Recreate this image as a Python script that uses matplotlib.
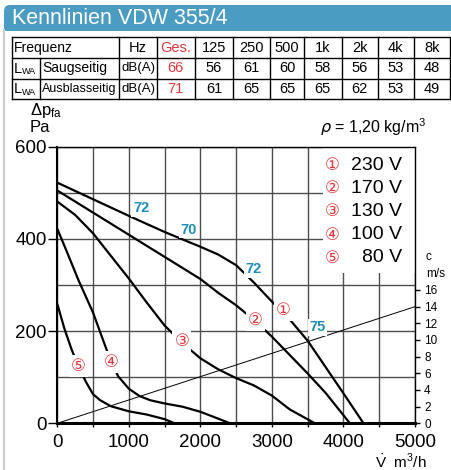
import matplotlib
matplotlib.use('Agg')
import matplotlib.pyplot as plt
from matplotlib import font_manager
from matplotlib.patches import Rectangle, FancyBboxPatch
from matplotlib.ticker import MultipleLocator

# values
title = 'Kennlinien VDW 355/4'
bands = ['125', '250', '500', '1k', '2k', '4k', '8k']
saug_total = 66
saug = [56, 61, 60, 58, 56, 53, 48]
ausblas_total = 71
ausblas = [61, 65, 65, 65, 62, 53, 49]

voltages = ['230 V', '170 V', '130 V', '100 V', '80 V']
marks = ['①', '②', '③', '④', '⑤']

flow_1 = [0, 500, 1000, 1500, 2000, 2250, 2500, 2750, 3000, 3250, 3500, 3750, 4000, 4280]
press_1 = [522, 486, 450, 415, 383, 366, 343, 305, 264, 225, 179, 122, 65, 0]
flow_2 = [0, 500, 1000, 1500, 2000, 2250, 2500, 2750, 3000, 3250, 3500, 3750, 4090]
press_2 = [505, 457, 409, 361, 313, 283, 256, 224, 188, 148, 108, 66, 0]
flow_3 = [0, 250, 500, 750, 1000, 1250, 1500, 1750, 2000, 2250, 2500, 2750, 3000, 3250, 3600]
press_3 = [481, 452, 412, 363, 314, 262, 212, 174, 141, 117, 98, 82, 60, 30, 0]
flow_4 = [0, 150, 300, 500, 700, 850, 1000, 1150, 1300, 1500, 1750, 2000, 2200, 2415]
press_4 = [422, 366, 309, 240, 155, 102, 75, 59, 50, 43, 36, 25, 13, 0]
flow_5 = [0, 100, 200, 300, 400, 500, 600, 750, 1000, 1250, 1500, 1640]
press_5 = [259, 205, 160, 122, 90, 63, 50, 37, 26, 19, 9, 0]
curves = [(flow_1, press_1), (flow_2, press_2), (flow_3, press_3),
          (flow_4, press_4), (flow_5, press_5)]

mark_flow = [3160, 2765, 1740, 760, 295]
mark_press = [246, 224, 178, 134, 124]

noise_vals = ['72', '70', '72', '75']
noise_flow = [1170, 1837, 2749, 3640]
noise_press = [466, 420, 334, 208]

c_flow = [0, 5000]
c_speed = [0, 14.0]

red = '#e5353d'
blue = '#1c8cb8'

names = {f.name for f in font_manager.fontManager.ttflist}
base = 'Liberation Sans' if 'Liberation Sans' in names else 'DejaVu Sans'
plt.rcParams['font.family'] = [base, 'DejaVu Sans']
if 'Liberation Sans Narrow' in names:
    tab_family = ['Liberation Sans Narrow', 'DejaVu Sans']
    tab_scale = 1.15
else:
    tab_family = [base, 'DejaVu Sans']
    tab_scale = 1.0


def tab_text(x, y, s, size, ha='center', color='black'):
    over.text(x, y, s, va='center', ha=ha, color=color,
              family=tab_family, fontsize=size * tab_scale)


fig = plt.figure(figsize=(4.51, 4.70), dpi=100)

# pixel overlay for header, table and free labels
over = fig.add_axes([0, 0, 1, 1])
over.set_xlim(0, 451)
over.set_ylim(470, 0)
over.axis('off')

over.add_patch(FancyBboxPatch((4, 5), 470, 25.7, boxstyle='round,pad=0,rounding_size=6',
                              facecolor='#4a9cc2', edgecolor='none'))
over.add_patch(Rectangle((4, 18), 470, 12.7, facecolor='#4a9cc2', edgecolor='none'))
over.plot([4, 4], [30, 470], color='#cccccc', lw=1.6)
over.text(12, 18.5, title, color='white', fontsize=15.5, va='center', ha='left')

col_edges = [12, 119.3, 156.7, 195, 233, 270, 304, 341.5, 377.7, 414, 449.5]
row_edges = [37.3, 58.3, 78.5, 99]
for y in row_edges:
    over.plot([col_edges[0], col_edges[-1]], [y, y], color='black', lw=1)
for x in col_edges:
    over.plot([x, x], [row_edges[0], row_edges[-1]], color='black', lw=1)
over.plot([40, 40], [row_edges[1], row_edges[-1]], color='black', lw=1)

row_mid = [(row_edges[i] + row_edges[i + 1]) / 2 for i in range(3)]
col_mid = [(col_edges[i] + col_edges[i + 1]) / 2 for i in range(1, len(col_edges) - 1)]

tab_text(14, row_mid[0], 'Frequenz', 10, ha='left')
tab_text(col_mid[0], row_mid[0], 'Hz', 10.5)
tab_text(col_mid[1], row_mid[0], 'Ges.', 10.5, color=red)
for j, b in enumerate(bands):
    tab_text(col_mid[j + 2], row_mid[0], b, 10.5)
rows = [('Saugseitig', saug_total, saug), ('Ausblasseitig', ausblas_total, ausblas)]
for i, (name, total, vals) in enumerate(rows):
    y = row_mid[i + 1]
    tab_text(14, y + 0.3, 'L', 10.5, ha='left')
    tab_text(21.5, y + 3.5, 'WA', 6.5, ha='left')
    tab_text(42, y, name, 10 if i == 0 else 9, ha='left')
    tab_text(col_mid[0], y, 'dB(A)', 9.5)
    tab_text(col_mid[1], y, str(total), 10.5, color=red)
    for j, v in enumerate(vals):
        tab_text(col_mid[j + 2], y, str(v), 10.5)

over.text(30, 110, r'$\mathregular{\Delta p_{fa}}$', fontsize=12, va='center', ha='left')
over.text(30, 127.5, 'Pa', fontsize=12, va='center', ha='left')
over.text(427, 127.5, r'$\rho$ = 1,20 kg/m$^{\mathregular{3}}$', fontsize=11.5,
          va='center', ha='right')
over.text(427, 462, r'$\dot{\mathregular{V}}$  m$^{\mathregular{3}}$/h', fontsize=11,
          va='center', ha='right')

# main chart
ax = fig.add_axes([57.3 / 451, 46.7 / 470, (415 - 57.3) / 451, 276.6 / 470])
ax.set_xlim(0, 5000)
ax.set_ylim(0, 600)
ax.xaxis.set_major_locator(MultipleLocator(1000))
ax.xaxis.set_minor_locator(MultipleLocator(500))
ax.yaxis.set_major_locator(MultipleLocator(200))
ax.yaxis.set_minor_locator(MultipleLocator(100))
ax.set_axisbelow(True)
ax.grid(which='both', color='#4d4d4d', lw=1.0)
ax.tick_params(axis='x', which='both', direction='out', length=3, width=1,
               labelsize=13.5, pad=4.5)
ax.tick_params(axis='y', which='major', direction='out', length=6.8, width=1,
               labelsize=13.5, pad=0.8)
ax.tick_params(axis='y', which='minor', length=0)
for s in ['top', 'right']:
    ax.spines[s].set_linewidth(1.0)
ax.spines['left'].set_linewidth(1.5)
ax.spines['bottom'].set_linewidth(2.2)

# white panel behind the voltage legend
ax.add_patch(Rectangle((3716, 326), 1284, 274, facecolor='white', edgecolor='none', zorder=1))

for q, p in curves:
    ax.plot(q, p, color='black', lw=1.6, zorder=2, solid_capstyle='butt')

ax2 = ax.twinx()
ax2.set_ylim(0, 33.2)
ax2.set_yticks(range(0, 17, 2))
ax2.tick_params(axis='y', direction='out', length=3.6, width=1, labelsize=8.5, pad=3)
for s in ax2.spines.values():
    s.set_visible(False)
ax2.plot(c_flow, c_speed, color='black', lw=0.7, zorder=2)
ax2.text(1.03, 20.0, 'c', transform=ax2.get_yaxis_transform(), fontsize=8.5,
         va='center', ha='left')
ax2.text(1.03, 17.9, 'm/s', transform=ax2.get_yaxis_transform(), fontsize=8.5,
         va='center', ha='left')

for s, q, p in zip(noise_vals, noise_flow, noise_press):
    ax2.text(q, p, s, transform=ax.transData, color=blue, fontsize=10.5, weight='bold',
             ha='center', va='center', zorder=5,
             bbox=dict(facecolor='white', edgecolor='none', pad=1))

for s, q, p in zip(marks, mark_flow, mark_press):
    ax2.text(q, p, s, transform=ax.transData, color=red, fontsize=12,
             family=['DejaVu Sans'], ha='center', va='center', zorder=5,
             bbox=dict(facecolor='white', edgecolor='none', pad=1.5))

legend_press = [560, 510, 460, 409, 359]
for s, v, p in zip(marks, voltages, legend_press):
    ax2.text(3842, p, s, transform=ax.transData, color=red, fontsize=12,
             family=['DejaVu Sans'], ha='center', va='center', zorder=5)
    ax2.text(4821, p, v, transform=ax.transData, color='black', fontsize=14,
             ha='right', va='center', zorder=5)

fig.savefig('out.png', dpi=100)
